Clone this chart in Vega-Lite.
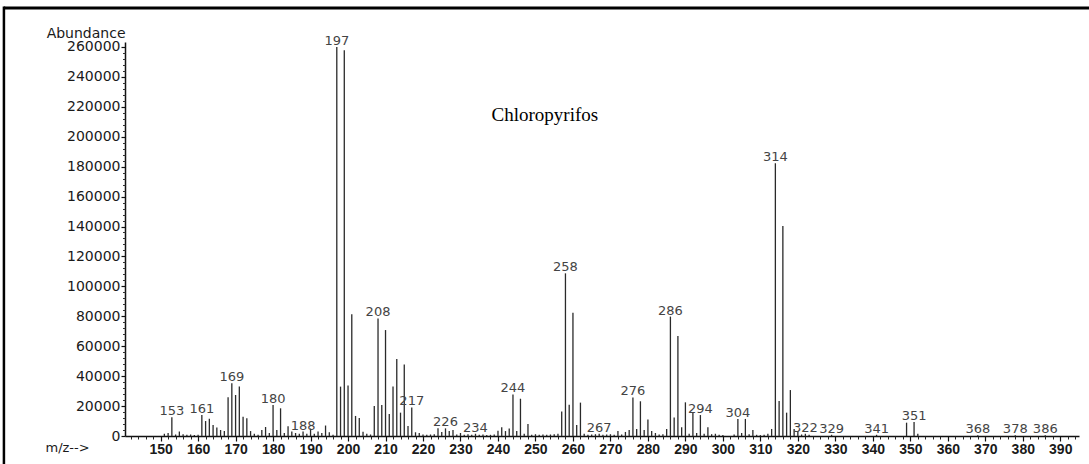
{
  "$schema": "https://vega.github.io/schema/vega-lite/v6.json",
  "width": 954,
  "height": 394,
  "autosize": {"type": "none"},
  "padding": {"left": 125, "top": 42, "right": 10, "bottom": 28},
  "background": "white",
  "config": {"view": {"stroke": null}},
  "data": {"values": [
    {"mz":151,"ab":1500},{"mz":152,"ab":2000},{"mz":153,"ab":12500,"label":"153"},{"mz":154,"ab":1000},{"mz":155,"ab":3000},
    {"mz":156,"ab":1200},{"mz":157,"ab":800},{"mz":158,"ab":1000},{"mz":159,"ab":600},{"mz":160,"ab":800},
    {"mz":161,"ab":14000,"label":"161"},{"mz":162,"ab":10000},{"mz":163,"ab":11600},{"mz":164,"ab":7300},{"mz":165,"ab":5600},
    {"mz":166,"ab":4000},{"mz":167,"ab":3300},{"mz":168,"ab":25900},{"mz":169,"ab":35200,"label":"169"},{"mz":170,"ab":27400},
    {"mz":171,"ab":33000},{"mz":172,"ab":12900},{"mz":173,"ab":11800},{"mz":174,"ab":3300},{"mz":175,"ab":1500},
    {"mz":176,"ab":800},{"mz":177,"ab":4000},{"mz":178,"ab":6000},{"mz":179,"ab":2000},{"mz":180,"ab":20700,"label":"180"},
    {"mz":181,"ab":4000},{"mz":182,"ab":18500},{"mz":183,"ab":2000},{"mz":184,"ab":6500},{"mz":185,"ab":3000},
    {"mz":186,"ab":2000},{"mz":187,"ab":1500},{"mz":188,"ab":3000,"label":"188"},{"mz":189,"ab":1500},{"mz":190,"ab":5000},
    {"mz":191,"ab":1500},{"mz":192,"ab":3000},{"mz":193,"ab":2000},{"mz":194,"ab":7000},{"mz":195,"ab":2500},
    {"mz":196,"ab":800},{"mz":197,"ab":260000,"label":"197"},{"mz":198,"ab":33000},{"mz":199,"ab":257800},{"mz":200,"ab":33800},
    {"mz":201,"ab":81400},{"mz":202,"ab":13400},{"mz":203,"ab":12000},{"mz":204,"ab":2900},{"mz":205,"ab":1500},
    {"mz":206,"ab":1000},{"mz":207,"ab":20000},{"mz":208,"ab":78600,"label":"208"},{"mz":209,"ab":20700},{"mz":210,"ab":70800},
    {"mz":211,"ab":14700},{"mz":212,"ab":33000},{"mz":213,"ab":51500},{"mz":214,"ab":15600},{"mz":215,"ab":47700},
    {"mz":216,"ab":6700},{"mz":217,"ab":19100,"label":"217"},{"mz":218,"ab":2500},{"mz":219,"ab":2000},{"mz":220,"ab":1000},
    {"mz":221,"ab":800},{"mz":222,"ab":1000},{"mz":223,"ab":1200},{"mz":224,"ab":5100},{"mz":225,"ab":2700},
    {"mz":226,"ab":5100,"label":"226"},{"mz":227,"ab":3300},{"mz":228,"ab":4000},{"mz":229,"ab":1000},{"mz":230,"ab":2000},
    {"mz":231,"ab":800},{"mz":232,"ab":1200},{"mz":233,"ab":800},{"mz":234,"ab":1500,"label":"234"},{"mz":235,"ab":800},
    {"mz":236,"ab":1000},{"mz":237,"ab":600},{"mz":238,"ab":800},{"mz":239,"ab":1000},{"mz":240,"ab":3500},
    {"mz":241,"ab":5800},{"mz":242,"ab":3300},{"mz":243,"ab":5000},{"mz":244,"ab":27800,"label":"244"},{"mz":245,"ab":3300},
    {"mz":246,"ab":24900},{"mz":247,"ab":1500},{"mz":248,"ab":8000},{"mz":249,"ab":800},{"mz":250,"ab":1200},
    {"mz":251,"ab":800},{"mz":252,"ab":1000},{"mz":253,"ab":800},{"mz":254,"ab":1000},{"mz":255,"ab":1200},
    {"mz":256,"ab":1500},{"mz":257,"ab":16300},{"mz":258,"ab":108700,"label":"258"},{"mz":259,"ab":20900},{"mz":260,"ab":82400},
    {"mz":261,"ab":7300},{"mz":262,"ab":22300},{"mz":263,"ab":1500},{"mz":264,"ab":800},{"mz":265,"ab":1000},
    {"mz":266,"ab":1200},{"mz":267,"ab":1500,"label":"267"},{"mz":268,"ab":800},{"mz":269,"ab":1000},{"mz":270,"ab":1200},
    {"mz":271,"ab":800},{"mz":272,"ab":3300},{"mz":273,"ab":1000},{"mz":274,"ab":2700},{"mz":275,"ab":4000},
    {"mz":276,"ab":25800,"label":"276"},{"mz":277,"ab":4700},{"mz":278,"ab":23200},{"mz":279,"ab":4000},{"mz":280,"ab":11100},
    {"mz":281,"ab":3300},{"mz":282,"ab":2000},{"mz":283,"ab":1000},{"mz":284,"ab":1200},{"mz":285,"ab":4700},
    {"mz":286,"ab":79800,"label":"286"},{"mz":287,"ab":12300},{"mz":288,"ab":66800},{"mz":289,"ab":5800},{"mz":290,"ab":22500},
    {"mz":291,"ab":1500},{"mz":292,"ab":15800},{"mz":293,"ab":2000},{"mz":294,"ab":14000,"label":"294"},{"mz":295,"ab":1500},
    {"mz":296,"ab":5800},{"mz":297,"ab":1200},{"mz":298,"ab":1500},{"mz":299,"ab":800},{"mz":300,"ab":600},
    {"mz":303,"ab":1000},{"mz":304,"ab":11400,"label":"304"},{"mz":305,"ab":2000},{"mz":306,"ab":11400},{"mz":307,"ab":1200},
    {"mz":308,"ab":4000},{"mz":309,"ab":800},{"mz":310,"ab":600},{"mz":311,"ab":800},{"mz":312,"ab":1500},
    {"mz":313,"ab":4700},{"mz":314,"ab":182300,"label":"314"},{"mz":315,"ab":23400},{"mz":316,"ab":140400},{"mz":317,"ab":15600},
    {"mz":318,"ab":30700},{"mz":319,"ab":4700},{"mz":320,"ab":3300},{"mz":321,"ab":1000},{"mz":322,"ab":1500,"label":"322"},
    {"mz":323,"ab":800},{"mz":329,"ab":800,"label":"329"},{"mz":341,"ab":800,"label":"341"},{"mz":349,"ab":8900},
    {"mz":351,"ab":9400,"label":"351"},{"mz":352,"ab":1500},{"mz":368,"ab":500,"label":"368"},{"mz":378,"ab":500,"label":"378"},
    {"mz":386,"ab":500,"label":"386"}
  ]},
  "layer": [
    {
      "mark": {"type": "rule", "color": "#2a2a2a", "strokeWidth": 1.3},
      "encoding": {
        "x": {"field": "mz", "type": "quantitative",
          "scale": {"domain": [140.5, 395], "nice": false, "zero": false},
          "axis": {"orient": "bottom", "values": [150,160,170,180,190,200,210,220,230,240,250,260,270,280,290,300,310,320,330,340,350,360,370,380,390],
            "grid": false, "tickSize": 5, "tickWidth": 1.2, "tickColor": "#111", "domainColor": "#111", "domainWidth": 1.5,
            "labelFont": "Liberation Sans", "labelFontWeight": "bold", "labelFontSize": 14, "labelColor": "#1a1a1a", "labelPadding": 1,
            "title": "m/z-->", "titleFont": "DejaVu Sans", "titleFontWeight": "normal", "titleFontSize": 13, "titleColor": "#1a1a1a",
            "titleAnchor": "start", "titleAlign": "left", "titleAngle": 0, "titleBaseline": "middle", "titleX": -80, "titleY": 11}},
        "y": {"field": "ab", "type": "quantitative",
          "scale": {"domain": [0, 263300], "nice": false, "zero": true},
          "axis": {"orient": "left", "values": [0,20000,40000,60000,80000,100000,120000,140000,160000,180000,200000,220000,240000,260000],
            "format": "d", "grid": false, "tickSize": 4, "tickWidth": 1.2, "tickColor": "#111", "domainColor": "#111", "domainWidth": 1.5,
            "labelFont": "DejaVu Sans", "labelFontSize": 14, "labelColor": "#1a1a1a", "labelPadding": 1,
            "title": "Abundance", "titleFont": "DejaVu Sans", "titleFontWeight": "normal", "titleFontSize": 14, "titleColor": "#1a1a1a",
            "titleAngle": 0, "titleAlign": "right", "titleBaseline": "alphabetic", "titleX": 0, "titleY": -5}},
        "y2": {"datum": 0}
      }
    },
    {
      "transform": [{"filter": "isValid(datum.label)"}],
      "mark": {"type": "text", "font": "DejaVu Sans", "fontSize": 13, "color": "#444", "align": "center", "baseline": "alphabetic", "dy": -2},
      "encoding": {
        "x": {"field": "mz", "type": "quantitative",
          "scale": {"domain": [140.5, 395], "nice": false, "zero": false},
          "axis": {"orient": "bottom", "values": [142,144,146,148,152,154,156,158,162,164,166,168,172,174,176,178,182,184,186,188,192,194,196,198,202,204,206,208,212,214,216,218,222,224,226,228,232,234,236,238,242,244,246,248,252,254,256,258,262,264,266,268,272,274,276,278,282,284,286,288,292,294,296,298,302,304,306,308,312,314,316,318,322,324,326,328,332,334,336,338,342,344,346,348,352,354,356,358,362,364,366,368,372,374,376,378,382,384,386,388,392,394],
            "grid": false, "domain": false, "labels": false, "tickSize": 3, "tickWidth": 1, "tickColor": "#222", "title": null}},
        "y": {"field": "ab", "type": "quantitative",
          "scale": {"domain": [0, 263300], "nice": false, "zero": true},
          "axis": {"orient": "left", "values": [4000,8000,12000,16000,24000,28000,32000,36000,44000,48000,52000,56000,64000,68000,72000,76000,84000,88000,92000,96000,104000,108000,112000,116000,124000,128000,132000,136000,144000,148000,152000,156000,164000,168000,172000,176000,184000,188000,192000,196000,204000,208000,212000,216000,224000,228000,232000,236000,244000,248000,252000,256000],
            "grid": false, "domain": false, "labels": false, "tickSize": 2.5, "tickWidth": 1, "tickColor": "#333", "title": null}},
        "text": {"field": "label"}
      }
    },
    {
      "data": {"values": [{"name": "Chloropyrifos"}]},
      "mark": {"type": "text", "font": "Liberation Serif", "fontSize": 19, "color": "#000", "align": "center", "baseline": "alphabetic"},
      "encoding": {
        "x": {"datum": 252.5, "type": "quantitative", "axis": null},
        "y": {"datum": 210500, "type": "quantitative", "axis": null},
        "text": {"field": "name"}
      }
    },
    {
      "data": {"values": [{"edge": "top"}]},
      "mark": {"type": "rule", "color": "#000", "strokeWidth": 3, "clip": false},
      "encoding": {
        "x": {"datum": 108.2, "type": "quantitative", "axis": null},
        "x2": {"datum": 400},
        "y": {"datum": 286000, "type": "quantitative", "axis": null}
      }
    },
    {
      "data": {"values": [{"edge": "left"}]},
      "mark": {"type": "rule", "color": "#000", "strokeWidth": 2.5, "clip": false},
      "encoding": {
        "x": {"datum": 108.2, "type": "quantitative", "axis": null},
        "y": {"datum": 287000, "type": "quantitative", "axis": null},
        "y2": {"datum": -20000}
      }
    }
  ],
  "resolve": {"axis": {"x": "independent", "y": "independent"}}
}
